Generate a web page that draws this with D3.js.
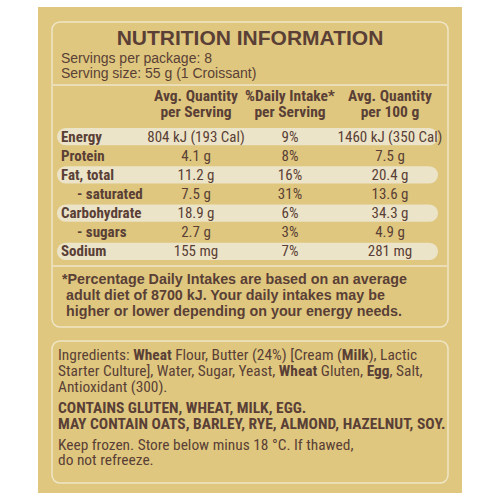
<!DOCTYPE html>
<html><head><meta charset="utf-8">
<script src="https://cdn.jsdelivr.net/npm/d3@7"></script>
<style>body{margin:0;background:#fff}</style></head>
<body><svg id="c" width="500" height="500"></svg>
<script>
const nutrients = ["Energy","Protein","Fat, total","- saturated","Carbohydrate","- sugars","Sodium"];
const perServing = ["804 kJ (193 Cal)","4.1 g","11.2 g","7.5 g","18.9 g","2.7 g","155 mg"];
const dailyIntake = ["9%","8%","16%","31%","6%","3%","7%"];
const per100g = ["1460 kJ (350 Cal)","7.5 g","20.4 g","13.6 g","34.3 g","4.9 g","281 mg"];
const headers = [["Avg. Quantity","per Serving"],["%Daily Intake*","per Serving"],["Avg. Quantity","per 100 g"]];
const footnote = ["*Percentage Daily Intakes are based on an average","adult diet of 8700 kJ. Your daily intakes may be","higher or lower depending on your energy needs."];

const brown="#5a3f36", bg="#dfc77f", pill="#ece4c8", line="#efe6c8";
const narrow="'Liberation Sans Narrow','Roboto Condensed',Arial,sans-serif";
const svg=d3.select("#c");
svg.append("rect").attr("x",38).attr("y",7).attr("width",424).attr("height",486).attr("fill",bg);
svg.append("rect").attr("x",52).attr("y",22).attr("width",396).attr("height",305).attr("rx",8).attr("fill","none").attr("stroke",line).attr("stroke-width",1.5);
svg.append("rect").attr("x",52).attr("y",341).attr("width",396).attr("height",142).attr("rx",8).attr("fill","none").attr("stroke",line).attr("stroke-width",1.5);
svg.append("line").attr("x1",53).attr("x2",447).attr("y1",85).attr("y2",85).attr("stroke",line).attr("stroke-width",1.5);
svg.append("line").attr("x1",53).attr("x2",447).attr("y1",266).attr("y2",266).attr("stroke",line).attr("stroke-width",1.5);

svg.append("text").attr("x",250).attr("y",45).attr("text-anchor","middle").attr("font-family","Arial,sans-serif").attr("font-weight","bold").attr("font-size",21).attr("fill",brown).text("NUTRITION INFORMATION");
[["Servings per package: 8",63],["Serving size: 55 g (1 Croissant)",78]].forEach(([t,y])=>
 svg.append("text").attr("x",61).attr("y",y).attr("font-family","Arial,sans-serif").attr("font-size",14).attr("fill",brown).text(t));

const colX=d3.scaleOrdinal().domain([0,1,2]).range([196,290,390]);
headers.forEach((h,i)=>h.forEach((t,j)=>svg.append("text").attr("x",colX(i)).attr("y",101+j*16).attr("text-anchor","middle")
 .attr("font-family",narrow).attr("font-weight","bold").attr("font-size",15.5).attr("fill",brown).text(t)));

const y=d3.scaleBand().domain(nutrients).range([127,261]).padding(0);
const g=svg.append("g");
nutrients.forEach((n,i)=>{
  const yc=y(n)+y.bandwidth()/2;
  if(i%2===0 || i===6) g.append("rect").attr("x",57).attr("y",y(n)+1).attr("width",381).attr("height",y.bandwidth()-2).attr("rx",(y.bandwidth()-2)/2).attr("fill",pill);
  const sub=n.startsWith("-");
  g.append("text").attr("x",sub?77:61).attr("y",yc+5).attr("font-family",narrow).attr("font-weight","bold").attr("font-size",15).attr("fill",brown).text(n);
  [perServing[i],dailyIntake[i],per100g[i]].forEach((v,k)=>g.append("text").attr("x",colX(k)).attr("y",yc+5).attr("text-anchor","middle")
   .attr("font-family",narrow).attr("font-size",15).attr("fill",brown).text(v));
});
footnote.forEach((t,i)=>svg.append("text").attr("x",i?66:62).attr("y",284+i*16).attr("font-family","Arial,sans-serif").attr("font-weight","bold").attr("font-size",14.3).attr("fill",brown).text(t));

const ing=[[["Ingredients: ",0],["Wheat",1],[" Flour, Butter (24%) [Cream (",0],["Milk",1],["), Lactic",0]],
 [["Starter Culture], Water, Sugar, Yeast, ",0],["Wheat",1],[" Gluten, ",0],["Egg",1],[", Salt,",0]],
 [["Antioxidant (300).",0]]];
ing.forEach((parts,i)=>{const t=svg.append("text").attr("x",58).attr("y",360+i*16).attr("font-family",narrow).attr("font-size",15.4).attr("fill",brown);
 parts.forEach(([s,b])=>t.append("tspan").attr("font-weight",b?"bold":"normal").text(s));});
["CONTAINS GLUTEN, WHEAT, MILK, EGG.","MAY CONTAIN OATS, BARLEY, RYE, ALMOND, HAZELNUT, SOY."].forEach((t,i)=>
 svg.append("text").attr("x",58).attr("y",413+i*16).attr("font-family",narrow).attr("font-weight","bold").attr("font-size",15.5).attr("fill",brown).text(t));
["Keep frozen. Store below minus 18 °C. If thawed,","do not refreeze."].forEach((t,i)=>
 svg.append("text").attr("x",58).attr("y",450+i*15).attr("font-family",narrow).attr("font-size",15.4).attr("fill",brown).text(t));
</script></body></html>
